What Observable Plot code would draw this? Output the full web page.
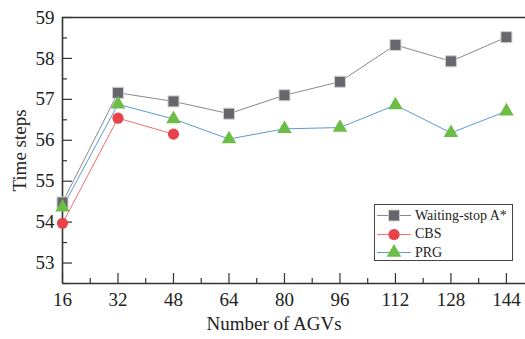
<!DOCTYPE html>
<html><head><meta charset="utf-8">
<script src="https://cdn.jsdelivr.net/npm/d3@7"></script>
<script src="https://cdn.jsdelivr.net/npm/@observablehq/plot@0.6"></script>
<style>
body{margin:0;background:#fff;}
#wrap{position:relative;width:525px;height:339px;}
#wrap svg text{font-family:"Liberation Serif",serif;}
#legend{position:absolute;left:374px;top:204px;width:139px;height:57px;border:1px solid #444;background:#fff;font-family:"Liberation Serif",serif;font-size:14px;color:#222;box-sizing:border-box;}
.row{position:absolute;left:2px;height:19px;display:flex;align-items:center;}
.row svg{display:block}
.row span{margin-left:4px;}
</style></head>
<body><div id="wrap"><div id="legend"></div></div>
<script>
const agvs = [16, 32, 48, 64, 80, 96, 112, 128, 144];
const waitingStop = [54.48, 57.16, 56.95, 56.65, 57.10, 57.43, 58.33, 57.93, 58.52];
const cbsAgvs = [16, 32, 48];
const cbs = [53.97, 56.54, 56.15];
const prg = [54.36, 56.88, 56.52, 56.03, 56.28, 56.31, 56.86, 56.18, 56.71];
const xTicks = [16, 32, 48, 64, 80, 96, 112, 128, 144];
const xMinor = [24, 40, 56, 72, 88, 104, 120, 136];
const yTicks = [53, 54, 55, 56, 57, 58, 59];
const yMinor = [52.5, 53.5, 54.5, 55.5, 56.5, 57.5, 58.5];
const xDomain = [16, 149.5];
const yDomain = [52.5, 59];
const seriesNames = ["Waiting-stop A*", "CBS", "PRG"];

const W = 525, H = 339, mL = 62, mT = 17, mB = 56, mR = 0;
const fw = W - mL - mR, fh = H - mT - mB;
const axisColor = "#333";
const serif = "Liberation Serif";

const ws = agvs.map((x, i) => ({x, y: waitingStop[i]}));
const cb = cbsAgvs.map((x, i) => ({x, y: cbs[i]}));
const pr = agvs.map((x, i) => ({x, y: prg[i]}));

const sty = {
  ws: {line: "#8a8a8a", fill: "#66666c", stroke: "#cfcfcf", r: 6.2},
  cbs: {line: "#f07070", fill: "#e8434b", stroke: "none", r: 5.6},
  prg: {line: "#5b9ad8", fill: "#6cbd45", stroke: "none", r: 5.4}
};

const chart = Plot.plot({
  width: W, height: H,
  marginLeft: mL, marginTop: mT, marginBottom: mB, marginRight: mR,
  style: {fontFamily: serif, fontSize: "19px", color: "#333", background: "#fff", overflow: "visible"},
  x: {domain: xDomain, axis: null},
  y: {domain: yDomain, axis: null},
  marks: [
    Plot.ruleX(xTicks, {x: d => d, insetTop: fh - 10, stroke: axisColor, strokeWidth: 1.2}),
    Plot.ruleX(xMinor, {x: d => d, insetTop: fh - 5, stroke: axisColor, strokeWidth: 1.2}),
    Plot.ruleY(yTicks, {y: d => d, insetRight: fw - 10, stroke: axisColor, strokeWidth: 1.2}),
    Plot.ruleY(yMinor, {y: d => d, insetRight: fw - 5, stroke: axisColor, strokeWidth: 1.2}),
    Plot.ruleX([xDomain[0]], {x: d => d, stroke: axisColor, strokeWidth: 1.6}),
    Plot.ruleY([yDomain[0]], {y: d => d, stroke: axisColor, strokeWidth: 1.6}),
    Plot.ruleY([yDomain[1]], {y: d => d, stroke: axisColor, strokeWidth: 1.6}),
    Plot.axisX({ticks: xTicks, tickSize: 0, tickPadding: 9, label: null, fontSize: 19, fontFamily: serif, color: "#222"}),
    Plot.axisY({ticks: yTicks, tickSize: 0, tickPadding: 8, tickFormat: d3.format("d"), label: null, fontSize: 19, fontFamily: serif, color: "#222"}),
    Plot.text(["Number of AGVs"], {frameAnchor: "bottom", dy: 46, dx: -20, fontSize: 19, fontFamily: serif, fill: "#222"}),
    Plot.text(["Time steps"], {frameAnchor: "left", textAnchor: "middle", lineAnchor: "middle", rotate: -90, dx: -43, fontSize: 19, fontFamily: serif, fill: "#222"}),
    Plot.line(ws, {x: "x", y: "y", stroke: sty.ws.line, strokeWidth: 1}),
    Plot.line(pr, {x: "x", y: "y", stroke: sty.prg.line, strokeWidth: 1}),
    Plot.line(cb, {x: "x", y: "y", stroke: sty.cbs.line, strokeWidth: 1}),
    Plot.dot(ws, {x: "x", y: "y", symbol: "square", r: sty.ws.r, fill: sty.ws.fill, stroke: sty.ws.stroke, strokeWidth: 1}),
    Plot.dot(cb, {x: "x", y: "y", symbol: "circle", r: sty.cbs.r, fill: sty.cbs.fill, stroke: "none"}),
    Plot.dot(pr, {x: "x", y: "y", symbol: "triangle", r: sty.prg.r, fill: sty.prg.fill, stroke: "none"})
  ]
});
const wrap = document.getElementById("wrap");
wrap.insertBefore(chart, wrap.firstChild);

// legend
const legend = document.getElementById("legend");
const keys = ["ws", "cbs", "prg"];
keys.forEach((k, i) => {
  const s = sty[k];
  const row = document.createElement("div");
  row.className = "row";
  row.style.top = (1 + i * 18.7) + "px";
  const sym = d3.symbol(k === "ws" ? d3.symbolSquare : k === "cbs" ? d3.symbolCircle : d3.symbolTriangle, Math.PI * s.r * s.r)();
  row.innerHTML = `<svg width="34" height="19"><line x1="0" x2="34" y1="9.5" y2="9.5" stroke="${s.line}" stroke-width="1"/><path d="${sym}" transform="translate(17,9.5)" fill="${s.fill}" stroke="${s.stroke}"/></svg><span>${seriesNames[i]}</span>`;
  legend.appendChild(row);
});
</script>
</body></html>
